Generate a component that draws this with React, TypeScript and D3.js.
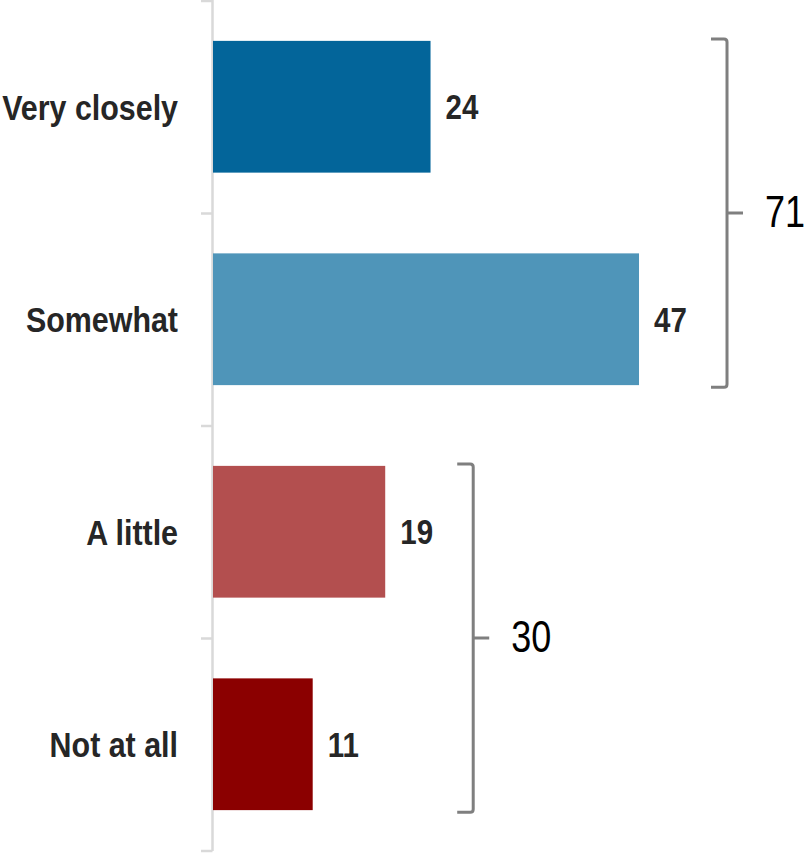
import React from "react";
import * as d3 from "d3";

const categories = ["Very closely", "Somewhat", "A little", "Not at all"];
const values = [24, 47, 19, 11];
const colors = ["#03659a", "#4f95b9", "#b34f4f", "#8b0000"];
const groupTotals = [71, 30];
const groupMembers = [
  ["Very closely", "Somewhat"],
  ["A little", "Not at all"],
];

const W = 807;
const H = 853;
const FONT = "'Liberation Sans', Arial, sans-serif";

function NText(props: {
  x: number;
  y: number;
  anchor?: "start" | "end";
  size: number;
  sx: number;
  bold?: boolean;
  fill: string;
  children: React.ReactNode;
}) {
  return (
    <text
      transform={`translate(${props.x},${props.y}) scale(${props.sx},1)`}
      textAnchor={props.anchor || "start"}
      fontSize={props.size}
      fontWeight={props.bold ? "bold" : "normal"}
      fill={props.fill}
    >
      {props.children}
    </text>
  );
}

export default function App() {
  const x = d3.scaleLinear().domain([0, 100]).range([213, 213 + 906.4]);
  const y = d3
    .scaleBand<string>()
    .domain(categories)
    .range([0.5, 850.5])
    .paddingInner(0.38)
    .paddingOuter(0.19);
  const bw = y.bandwidth();
  const step = y.step();
  const tickYs = [0.5, ...categories.slice(0, 3).map((c) => (y(c) as number) - step * 0.19 + step), 850.5];

  const brackets = groupMembers.map((members, i) => {
    const top = (y(members[0]) as number) - 2;
    const bottom = (y(members[members.length - 1]) as number) + bw + 2;
    const maxVal = d3.max(members.map((m) => values[categories.indexOf(m)])) as number;
    const bx = x(maxVal) + 88;
    const mid = (top + bottom) / 2;
    return { top, bottom, bx, mid, total: groupTotals[i] };
  });

  return (
    <svg
      width={W}
      height={H}
      style={{ position: "absolute", left: 0, top: 0, background: "#fff" }}
      fontFamily={FONT}
    >
      <line x1={212.5} x2={212.5} y1={0} y2={851} stroke="#d9d9d9" strokeWidth={2.5} />
      {tickYs.map((ty, i) => (
        <line key={i} x1={201} x2={212.5} y1={ty + 0.5} y2={ty + 0.5} stroke="#d9d9d9" strokeWidth={2.5} />
      ))}
      {categories.map((c, i) => {
        const yy = y(c) as number;
        return (
          <g key={c}>
            <rect x={x(0)} y={yy} width={x(values[i]) - x(0)} height={bw} fill={colors[i]} />
            <NText x={178} y={yy + bw / 2 + 13} anchor="end" size={36} sx={0.845} bold fill="#262626">
              {c}
            </NText>
            <NText x={x(values[i]) + 15} y={yy + bw / 2 + 12.5} size={36} sx={0.82} bold fill="#262626">
              {values[i]}
            </NText>
          </g>
        );
      })}
      {brackets.map((b, i) => (
        <g key={i}>
          <path
            d={`M${b.bx - 16},${b.top} L${b.bx - 3},${b.top} Q${b.bx},${b.top} ${b.bx},${b.top + 3} L${b.bx},${b.bottom - 3} Q${b.bx},${b.bottom} ${b.bx - 3},${b.bottom} L${b.bx - 16},${b.bottom}`}
            fill="none"
            stroke="#7f7f7f"
            strokeWidth={3}
          />
          <line x1={b.bx} x2={b.bx + 16} y1={b.mid} y2={b.mid} stroke="#7f7f7f" strokeWidth={3} />
          <NText x={b.bx + 38} y={b.mid + 14} size={45} sx={0.8} fill="#000">
            {b.total}
          </NText>
        </g>
      ))}
    </svg>
  );
}
